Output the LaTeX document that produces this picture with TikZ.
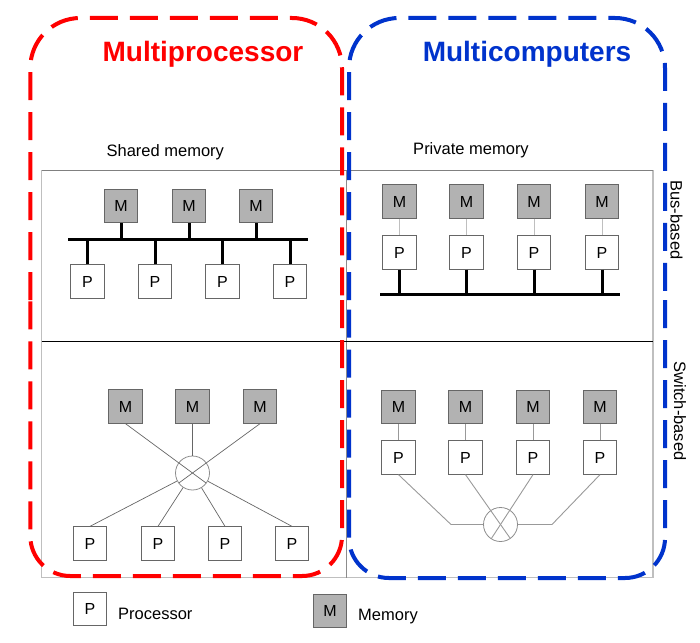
\documentclass[tikz,border=0pt]{standalone}
\usepackage{fontspec}
\setmainfont{Liberation Sans}
\usetikzlibrary{calc}
\definecolor{mpred}{RGB}{255,0,0}
\definecolor{mcblue}{RGB}{0,51,204}
\begin{document}
\begin{tikzpicture}[x=1pt,y=-1pt,
  unit/.style={draw=black!60, line width=0.8pt, minimum size=33.5pt, inner sep=0pt, font=\fontsize{16}{18}\selectfont},
  mem/.style={unit, fill=gray!60},
  proc/.style={unit, fill=white},
  thickbus/.style={line width=3pt},
  lightlink/.style={draw=black!25, line width=0.9pt},
  graylink/.style={draw=black!40, line width=0.9pt},
  darklink/.style={draw=black!60, line width=0.7pt},
  switchnode/.style={circle, draw=black!45, minimum size=34pt, inner sep=0pt, line width=0.8pt},
  group/.style={dash pattern=on 28pt off 12pt, line width=4pt},
  lbl/.style={font=\fontsize{16.5}{19}\selectfont, inner sep=0pt},
  titletext/.style={font=\fontsize{28}{32}\selectfont\bfseries, inner sep=0pt, anchor=base}
]
\useasboundingbox (0,0) rectangle (700,642);

% frame
\draw[black!25, line width=1.2pt] (41.5,170.5) rectangle (653,577.5);
\draw[black!50, line width=1.2pt] (41.5,170.5) -- (653,170.5);
\draw[black!45, line width=1pt] (346,170.5) -- (346,577.5);
\draw[black, line width=0.8pt] (41.5,341) -- (653,341);

% ---- top-left: shared memory, bus-based
\node[mem] (a1) at (121,206) {M};
\node[mem] (a2) at (189,206) {M};
\node[mem] (a3) at (256,206) {M};
\node[proc] (b1) at (87.5,281.5) {P};
\node[proc] (b2) at (155,281.5) {P};
\node[proc] (b3) at (222.5,281.5) {P};
\node[proc] (b4) at (290,281.5) {P};
\coordinate (busL) at (68,239);
\coordinate (busR) at (308,239);
\draw[thickbus] (busL) -- (busR);
\foreach \n in {a1,a2,a3} \draw[thickbus] (\n.south) -- (\n.south |- busL);
\foreach \n in {b1,b2,b3,b4} \draw[thickbus] (\n.north) -- (\n.north |- busL);

% ---- top-right: private memory, bus-based
\node[mem] (m1) at (399.5,201.5) {M};
\node[mem] (m2) at (466.5,201.5) {M};
\node[mem] (m3) at (534,201.5) {M};
\node[mem] (m4) at (602,201.5) {M};
\node[proc] (p1) at (399.5,252.5) {P};
\node[proc] (p2) at (466.5,252.5) {P};
\node[proc] (p3) at (534,252.5) {P};
\node[proc] (p4) at (602,252.5) {P};
\coordinate (bus2L) at (380,294);
\coordinate (bus2R) at (620,294);
\draw[thickbus] (bus2L) -- (bus2R);
\foreach \i in {1,2,3,4} {
  \draw[lightlink] (m\i.south) -- (p\i.north);
  \draw[thickbus] (p\i.south) -- (p\i.south |- bus2L);
}

% ---- bottom-left: shared memory, switch-based
\node[mem] (c1) at (125.5,406.5) {M};
\node[mem] (c2) at (192.5,406.5) {M};
\node[mem] (c3) at (260,406.5) {M};
\node[switchnode] (s1) at (192.5,473) {};
\node[proc] (d1) at (90,543.5) {P};
\node[proc] (d2) at (158,543.5) {P};
\node[proc] (d3) at (225,543.5) {P};
\node[proc] (d4) at (292,543.5) {P};
\draw[darklink] (c1.south) -- ($(s1.center)!17pt!180:(c1.south)$);
\draw[darklink] (c3.south) -- ($(s1.center)!17pt!180:(c3.south)$);
\draw[darklink] (c2.south) -- (s1);
\foreach \n in {d1,d2,d3,d4} \draw[darklink] (\n.north) -- (s1);

% ---- bottom-right: private memory, switch-based
\node[mem] (e1) at (398.5,407) {M};
\node[mem] (e2) at (465.5,407) {M};
\node[mem] (e3) at (533,407) {M};
\node[mem] (e4) at (600,407) {M};
\node[proc] (f1) at (398.5,457.5) {P};
\node[proc] (f2) at (465.5,457.5) {P};
\node[proc] (f3) at (533,457.5) {P};
\node[proc] (f4) at (600,457.5) {P};
\node[switchnode] (s2) at (500.5,524.5) {};
\coordinate (k1) at (451,524.5);
\coordinate (k4) at (552,524.5);
\foreach \i in {1,2,3,4} \draw[graylink] (e\i.south) -- (f\i.north);
\draw[graylink] (f1.south) -- (k1) -- (s2.west);
\draw[graylink] (f4.south) -- (k4) -- (s2.east);
\draw[graylink] (f2.south) -- ($(s2.center)!17pt!180:(f2.south)$);
\draw[graylink] (f3.south) -- ($(s2.center)!17pt!180:(f3.south)$);

% ---- group outlines
\draw[mpred, group, rounded corners=50pt] (30.3,300) -- (30.3,18) -- (342,18) -- (342,300);
\draw[mpred, group, rounded corners=40pt] (342,300) -- (342,576) -- (30.3,576) -- (30.3,300);
\draw[mcblue, group, rounded corners=50pt] (349,300) -- (349,18) -- (665,18) -- (665,300);
\draw[mcblue, group, rounded corners=40pt] (665,300) -- (665,578) -- (349,578) -- (349,300);

% ---- titles and labels
\node[titletext, text=mpred] (t1) at (203,61.7) {Multiprocessor};
\node[titletext, text=mcblue] (t2) at (527,61.7) {Multicomputers};
\node[lbl, anchor=base] (sh) at (165.3,156.7) {Shared memory};
\node[lbl, anchor=base] (pr) at (471,154) {Private memory};
\node[lbl, rotate=-90] (bb) at (676.5,220) {Bus-based};
\node[lbl, rotate=-90] (sb) at (680,411) {Switch-based};

% ---- legend
\node[proc] (lp) at (90,609) {P};
\node[lbl, anchor=base west] (lpt) at (118,619.3) {Processor};
\node[mem] (lm) at (330,611) {M};
\node[lbl, anchor=base west] (lmt) at (358,620) {Memory};
\end{tikzpicture}
\end{document}
